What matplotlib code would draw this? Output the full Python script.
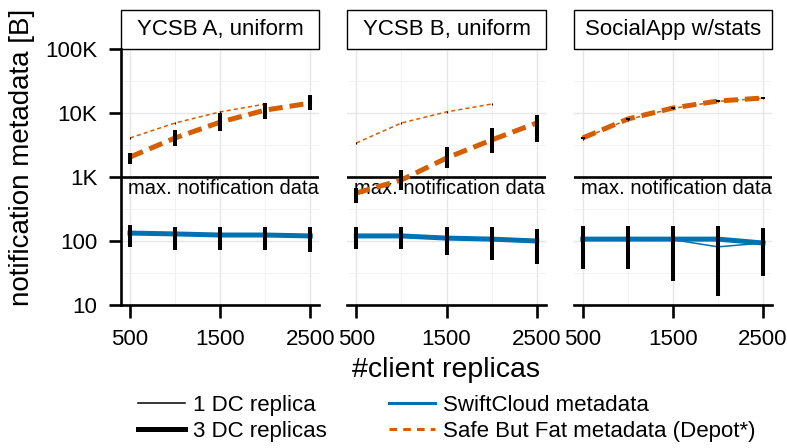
import numpy as np
import matplotlib.pyplot as plt
from matplotlib.lines import Line2D
from matplotlib.patches import Rectangle
from matplotlib.ticker import FixedLocator, NullFormatter

plt.rcParams['font.family'] = ['Liberation Sans', 'DejaVu Sans']

clients = [500, 1000, 1500, 2000, 2500]
workloads = ['YCSB A, uniform', 'YCSB B, uniform', 'SocialApp w/stats']
y_ticks = [10, 100, 1000, 10000, 100000]
y_tick_labels = ['10', '100', '1K', '10K', '100K']

# YCSB A, uniform
ycsb_a_depot_3dc = [2050, 4070, 7200, 11100, 14300]
ycsb_a_depot_3dc_lo = [1600, 3050, 5230, 8060, 11100]
ycsb_a_depot_3dc_hi = [2370, 5420, 10000, 14300, 19100]
ycsb_a_depot_1dc = [4070, 6980, 10400, 13800, np.nan]
ycsb_a_depot_1dc_lo = [3900, 6750, 10100, 13300, np.nan]
ycsb_a_depot_1dc_hi = [4250, 7250, 10700, 14300, np.nan]
ycsb_a_swift_3dc = [133, 129, 124, 124, 120]
ycsb_a_swift_3dc_lo = [81, 72, 72, 72, 67]
ycsb_a_swift_3dc_hi = [178, 165, 165, 165, 165]
ycsb_a_swift_1dc = [131, 127, 124, 123, np.nan]

# YCSB B, uniform
ycsb_b_depot_3dc = [562, 898, 1980, 3790, 6980]
ycsb_b_depot_3dc_lo = [392, 626, 1384, 2371, 3524]
ycsb_b_depot_3dc_hi = [673, 1285, 2943, 5834, 9306]
ycsb_b_depot_1dc = [3400, 6980, 10400, 13800, np.nan]
ycsb_b_depot_1dc_lo = [3280, 6750, 10100, 13300, np.nan]
ycsb_b_depot_1dc_hi = [3550, 7250, 10700, 14300, np.nan]
ycsb_b_swift_3dc = [120, 120, 111, 107, 100]
ycsb_b_swift_3dc_lo = [75, 75, 60, 50, 44]
ycsb_b_swift_3dc_hi = [165, 165, 165, 165, 154]
ycsb_b_swift_1dc = [120, 119, 112, 107, np.nan]

# SocialApp w/stats
social_depot_3dc = [4070, 8060, 11970, 15400, 17150]
social_depot_3dc_lo = [3950, 7850, 11700, 15000, 16800]
social_depot_3dc_hi = [4200, 8300, 12250, 15800, 17500]
social_depot_1dc = [4000, 7900, 11800, 15200, 17000]
social_depot_1dc_lo = [3850, 7600, 11400, 14700, 16600]
social_depot_1dc_hi = [4150, 8200, 12200, 15700, 17400]
social_swift_3dc = [107, 107, 107, 107, 93]
social_swift_3dc_lo = [37, 37, 24, 14, 28]
social_swift_3dc_hi = [171, 171, 171, 171, 160]
social_swift_1dc = [107, 107, 105, 81, 93]

panels = [
    (ycsb_a_depot_3dc, ycsb_a_depot_3dc_lo, ycsb_a_depot_3dc_hi,
     ycsb_a_depot_1dc, ycsb_a_depot_1dc_lo, ycsb_a_depot_1dc_hi,
     ycsb_a_swift_3dc, ycsb_a_swift_3dc_lo, ycsb_a_swift_3dc_hi, ycsb_a_swift_1dc),
    (ycsb_b_depot_3dc, ycsb_b_depot_3dc_lo, ycsb_b_depot_3dc_hi,
     ycsb_b_depot_1dc, ycsb_b_depot_1dc_lo, ycsb_b_depot_1dc_hi,
     ycsb_b_swift_3dc, ycsb_b_swift_3dc_lo, ycsb_b_swift_3dc_hi, ycsb_b_swift_1dc),
    (social_depot_3dc, social_depot_3dc_lo, social_depot_3dc_hi,
     social_depot_1dc, social_depot_1dc_lo, social_depot_1dc_hi,
     social_swift_3dc, social_swift_3dc_lo, social_swift_3dc_hi, social_swift_1dc),
]

BLUE = '#0072B2'
ORANGE = '#D55E00'

fig, axes = plt.subplots(1, 3, figsize=(7.87, 4.48), dpi=100, sharey=True)
fig.subplots_adjust(left=0.1537, right=0.981, bottom=0.3192, top=0.8906, wspace=0.1414)

for i, ax in enumerate(axes):
    (d3, d3lo, d3hi, d1, d1lo, d1hi, s3, s3lo, s3hi, s1) = panels[i]
    ax.set_yscale('log')
    ax.set_ylim(10, 100000)
    ax.set_xlim(400, 2600)

    # grid
    ax.set_xticks([500, 1500, 2500])
    ax.xaxis.set_minor_locator(FixedLocator([1000, 2000]))
    ax.yaxis.set_major_locator(FixedLocator(y_ticks))
    ax.yaxis.set_minor_locator(FixedLocator([10**1.5, 10**2.5, 10**3.5, 10**4.5]))
    ax.yaxis.set_minor_formatter(NullFormatter())
    ax.grid(which='major', color='#E6E6E6', lw=1.0, zorder=0)
    ax.grid(which='minor', color='#F2F2F2', lw=0.7, zorder=0)
    ax.set_axisbelow(True)

    # max notification data line
    ax.axhline(1000, color='black', lw=1.9, zorder=2)
    ax.annotate('max. notification data', xy=(0.035, 1000),
                xycoords=('axes fraction', 'data'), xytext=(0, -1.5),
                textcoords='offset points', ha='left', va='top', fontsize=14.5)

    # lines
    ax.plot(clients, s1, color=BLUE, lw=1.1, zorder=3)
    ax.plot(clients, s3, color=BLUE, lw=3.6, zorder=3)
    ax.plot(clients, d1, color=ORANGE, lw=1.1, dashes=(2.7, 2.0), zorder=3)
    ax.plot(clients, d3, color=ORANGE, lw=3.6, dashes=(2.8, 1.4), zorder=3)

    # error bars
    ax.vlines(clients, d1lo, d1hi, color='black', lw=0.8, zorder=4)
    ax.vlines(clients, d3lo, d3hi, color='black', lw=2.9, zorder=4)
    ax.vlines(clients, s3lo, s3hi, color='black', lw=2.9, zorder=4)

    # strip
    ax.add_patch(Rectangle((0, 1), 1, 0.152, transform=ax.transAxes, clip_on=False,
                           facecolor='white', edgecolor='black', lw=1.0))
    ax.text(0.5, 1.076, workloads[i], transform=ax.transAxes, ha='center',
            va='center', fontsize=16)

    for side in ['top', 'right']:
        ax.spines[side].set_visible(False)
    ax.spines['bottom'].set_linewidth(1.9)
    ax.spines['left'].set_linewidth(1.9)
    ax.tick_params(which='major', length=9, width=1.9, labelsize=16, pad=8)
    ax.tick_params(which='minor', length=0)
    if i > 0:
        ax.spines['left'].set_visible(False)
        ax.tick_params(axis='y', left=False, labelleft=False)

axes[0].set_yticklabels(y_tick_labels)
axes[0].set_ylabel('notification metadata [B]', fontsize=20)
axes[0].yaxis.set_label_coords(-0.435, 0.576)
fig.text(0.567, 0.174, '#client replicas', ha='center', va='center', fontsize=20.5)

handles = [
    Line2D([], [], color='black', lw=1.1),
    Line2D([], [], color='black', lw=3.6),
    Line2D([], [], color=BLUE, lw=2.2),
    Line2D([], [], color=ORANGE, lw=2.2, dashes=(2.5, 2.0)),
]
labels = ['1 DC replica', '3 DC replicas', 'SwiftCloud metadata',
          'Safe But Fat metadata (Depot*)']
fig.legend(handles, labels, ncol=2, loc='upper left', bbox_to_anchor=(0.1753, 0.119),
           frameon=False, fontsize=16, handlelength=2.1, handletextpad=0.36,
           columnspacing=2.8, labelspacing=0.23, borderpad=0, borderaxespad=0)

plt.savefig('out.png', dpi=100)
